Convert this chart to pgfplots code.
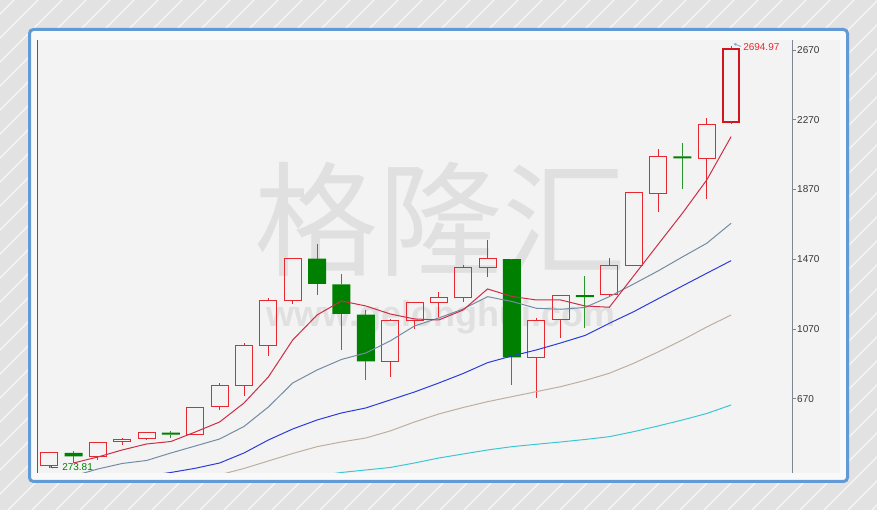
\documentclass[border=0pt]{standalone}
\usepackage{fontspec}
\setmainfont{Liberation Sans}
\newfontfamily\cjk{Noto Sans CJK SC}
\usepackage{pgfplots}
\usepackage{pgfplotstable}
\pgfplotsset{compat=1.18}
\usetikzlibrary{arrows.meta}

\definecolor{bgout}{RGB}{226,226,226}
\definecolor{frameblue}{RGB}{98,154,214}
\definecolor{innerbg}{RGB}{249,249,249}
\definecolor{plotbg}{RGB}{243,243,243}
\definecolor{wm}{RGB}{224,224,224}
\definecolor{upred}{RGB}{232,40,48}
\definecolor{lastred}{RGB}{210,20,30}
\definecolor{dngreen}{RGB}{0,128,0}
\definecolor{wickgreen}{RGB}{40,150,40}
\definecolor{ma5}{RGB}{205,45,70}
\definecolor{ma10}{RGB}{115,140,165}
\definecolor{ma20}{RGB}{45,60,215}
\definecolor{ma30}{RGB}{190,175,160}
\definecolor{ma60}{RGB}{60,200,210}
\definecolor{axisgray}{RGB}{125,135,145}
\definecolor{leftgray}{RGB}{90,90,90}
\definecolor{labelgray}{RGB}{55,55,55}
\definecolor{arrowblue}{RGB}{120,170,210}

% rising candles (red, hollow): body bottom/top, high, low
\pgfplotstableread{
i  bb     bt     hi     lo
1  284.2  360.5  366.2  273.8
3  337.6  420.2  422    318.6
4  423.6  437.4  446.6  404.7
5  440.8  473.5  481    433.4
7  466    620.9  624.6  466
8  624.6  747.3  762    605.4
9  747.3  974.2  989.6  687.4
10 976.5  1230.6 1247.7 916.8
11 1232.2 1473.1 1477   1213
15 884.7  1116   1127.3 796.4
16 1117.5 1219   1225   1068
17 1220.8 1249.4 1280.4 1137
18 1251.7 1421.5 1437   1226.5
19 1423.8 1471.4 1580.4 1370
21 907.7  1119.8 1133   672.5
22 1121.6 1259   1265   1020
24 1265   1431   1479   1255
25 1435.3 1851.6 1855   1432
26 1848   2060.4 2100.5 1742.7
28 2045   2241.6 2280   1815.5
29 2257   2677.5 2694.97 2244
}\up

% falling candles (green, filled)
\pgfplotstableread{
i  bb     bt     hi     lo
2  339.9  358.8  370    301
6  463.5  475    485    445
12 1328   1473   1557.4 1263
13 1156   1326.3 1385.4 949.5
14 884.7  1152   1179   777.5
20 907.7  1469.7 1472   748.8
23 1252   1263.5 1375.6 1077.4
27 2048   2059.5 2135   1871
}\dn

\pgfplotstableread{
i  bb   bt
29 2257 2677.5
}\lastc

% moving averages
\pgfplotstableread{
i  m5     m10    m20    m30    m60
2  301.4  227    nan    nan    nan
3  335.9  267    nan    nan    nan
4  376    298.6  nan    nan    nan
5  410.4  315.8  227    nan    nan
6  424.7  358.8  247    nan    nan
7  479.2  398.9  271.1  nan    nan
8  536.6  439.1  301.4  233.6  nan
9  645.5  510.8  358.8  270    nan
10 794.7  622.6  433.3  312.9  nan
11 1006.8 760.2  496.4  355.9  nan
12 1150.2 834.8  548    395    227
13 1230.5 895    588.2  421.9  247
14 1201.8 932.3  616.9  444.8  261.3
15 1156   1001.1 662.7  485    275.6
16 1127.3 1087.1 708.6  536.6  301.4
17 1121.6 1133   760.2  582.5  330.1
18 1178.9 1184.6 814.7  619.7  353.1
19 1299.3 1255.2 876.7  653    376
20 1256.3 1227.6 915.1  681.7  395
21 1236.2 1188.7 949.5  710.4  408.7
22 1236.2 1182.9 989.6  739    421.9
23 1201.8 1193.2 1032.7 774.6  436.2
24 1194.4 1255.2 1102.6 815.9  452.3
25 1374.5 1328   1169.1 873.2  481
26 1554.5 1402.6 1243.1 938    513.6
27 1733.5 1482.9 1316.5 1006.8 548
28 1924.4 1561.4 1389.4 1081.4 585.3
29 2172.8 1676.1 1461.6 1150.2 634.1
}\ma

\pgfplotsset{
  chart/.style={
    at={(37pt,37pt)}, anchor=south west,
    scale only axis, width=755pt, height=433pt,
    xmin=0.5, xmax=31.5, ymin=244, ymax=2727,
  },
  wick/.style 2 args={draw=none, mark=none,
    error bars/y explicit, error bars/error mark=none,
    error bars/y dir=#2,
    error bars/error bar style={draw=#1, line width=1pt}},
}

\begin{document}
\begin{tikzpicture}[x=1pt,y=1pt]
\fill[bgout] (0,0) rectangle (877,510);
\begin{scope}[overlay]
  \clip (0,0) rectangle (877,510);
  \foreach \k in {-520,-496,...,880}
    \draw[white, opacity=0.75, line width=1.3pt] (\k,0) -- ++(510,510);
\end{scope}
\draw[frameblue, line width=3pt, rounded corners=4pt, fill=innerbg]
  (29.5,28.5) rectangle (847.5,480.5);
\fill[plotbg] (37,37) rectangle (840,470);

% watermark
\node[text=wm, anchor=base, inner sep=0pt, font=\cjk\fontsize{124}{124}\selectfont]
  at (440,243) {格隆汇};
\node[text=wm, anchor=base, inner sep=0pt, font=\bfseries\fontsize{36}{36}\selectfont]
  at (441,183) {www.gelonghui.com};

% rising bodies
\begin{axis}[chart, hide axis, ybar stacked, bar width=17pt]
  \addplot[draw=none, fill=none] table[x=i, y=bb] {\up};
  \addplot[draw=upred, fill=none, line width=1pt]
    table[x=i, y expr=\thisrow{bt}-\thisrow{bb}] {\up};
\end{axis}

% falling bodies
\begin{axis}[chart, hide axis, ybar stacked, bar width=18pt]
  \addplot[draw=none, fill=none] table[x=i, y=bb] {\dn};
  \addplot[draw=none, fill=dngreen]
    table[x=i, y expr=\thisrow{bt}-\thisrow{bb}] {\dn};
\end{axis}

% last candle, heavier outline
\begin{axis}[chart, hide axis, ybar stacked, bar width=16pt]
  \addplot[draw=none, fill=none] table[x=i, y=bb] {\lastc};
  \addplot[draw=lastred, fill=none, line width=2pt]
    table[x=i, y expr=\thisrow{bt}-\thisrow{bb}] {\lastc};
\end{axis}

\begin{axis}[chart,
  axis x line=none, axis y line*=right,
  y axis line style={axisgray, line width=0.8pt},
  xtick=\empty,
  ytick={670,1070,1470,1870,2270,2670},
  yticklabels={670,1070,1470,1870,2270,2670},
  tick align=outside, major tick length=4pt,
  tick style={axisgray, line width=0.8pt},
  yticklabel style={font=\fontsize{10}{12}\selectfont, text=labelgray, inner sep=1pt},
]
  \draw[leftgray, line width=0.8pt] (rel axis cs:0,0) -- (rel axis cs:0,1);

  % wicks
  \addplot[wick={upred}{plus}]
    table[x=i, y=bt, y error expr=\thisrow{hi}-\thisrow{bt}] {\up};
  \addplot[wick={upred}{minus}]
    table[x=i, y=bb, y error expr=\thisrow{bb}-\thisrow{lo}] {\up};
  \addplot[wick={wickgreen}{plus}]
    table[x=i, y=bt, y error expr=\thisrow{hi}-\thisrow{bt}] {\dn};
  \addplot[wick={wickgreen}{minus}]
    table[x=i, y=bb, y error expr=\thisrow{bb}-\thisrow{lo}] {\dn};

  % moving averages
  \addplot[ma60, line width=1pt, mark=none] table[x=i, y=m60] {\ma};
  \addplot[ma30, line width=1pt, mark=none] table[x=i, y=m30] {\ma};
  \addplot[ma20, line width=1pt, mark=none] table[x=i, y=m20] {\ma};
  \addplot[ma10, line width=1pt, mark=none] table[x=i, y=m10] {\ma};
  \addplot[ma5, line width=1pt, mark=none] table[x=i, y=m5] {\ma};

  % extremes
  \node[anchor=west, inner sep=0pt, text=upred, font=\fontsize{10}{12}\selectfont]
    at (axis cs:29.49,2684) {2694.97};
  \draw[arrowblue, line width=0.8pt, -{Stealth[length=3pt,width=3pt]}]
    (axis cs:29.41,2690) -- (axis cs:29.1,2706);
  \node[anchor=west, inner sep=0pt, text=dngreen, font=\fontsize{10}{12}\selectfont]
    at (axis cs:1.53,278.5) {273.81};
  \draw[leftgray, line width=0.7pt, -{Stealth[length=2.5pt,width=3pt]}]
    (axis cs:1.38,278.5) -- (axis cs:1.03,278.5);
\end{axis}
\end{tikzpicture}
\end{document}
